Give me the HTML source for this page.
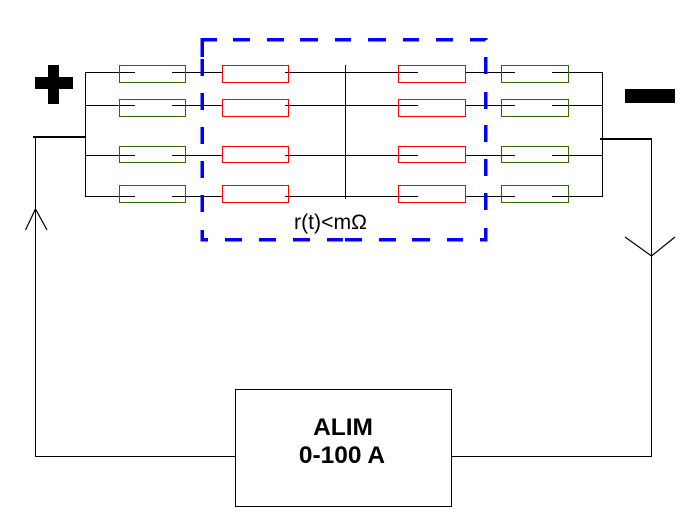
<!DOCTYPE html>
<html>
<head>
<meta charset="utf-8">
<style>
html,body{margin:0;padding:0;background:#fff;width:700px;height:532px;overflow:hidden}
svg{display:block}
.c{shape-rendering:crispEdges}
</style>
</head>
<body>
<svg width="700" height="532" viewBox="0 0 700 532" xmlns="http://www.w3.org/2000/svg">
<rect width="700" height="532" fill="#fff"/>
<g class="c" fill="none" stroke="#000" stroke-width="1">
  <path d="M85.5 72.5V196.5M602.5 72.5V196.5M345.5 65V199"/>
  <path d="M85 72.5H135M172 72.5H222M285 72.5H418M465 72.5H515M552 72.5H603"/>
  <path d="M85 105.5H135M172 105.5H222M285 105.5H418M465 105.5H515M552 105.5H603"/>
  <path d="M85 155.5H135M172 155.5H222M285 155.5H418M465 155.5H515M552 155.5H603"/>
  <path d="M85 196.5H135M172 196.5H222M285 196.5H418M465 196.5H515M552 196.5H603"/>
  <path d="M35.5 138V457M35 456.5H235M651.5 139V457M452 456.5H652"/>
  <rect x="235.5" y="389.5" width="216" height="117"/>
</g>
<g class="c" fill="none" stroke="#336600" stroke-width="1">
  <rect x="119.5" y="65.5" width="66" height="17"/>
  <rect x="119.5" y="99.5" width="66" height="17"/>
  <rect x="119.5" y="146.5" width="66" height="16"/>
  <rect x="119.5" y="185.5" width="66" height="17"/>
  <rect x="501.5" y="65.5" width="67" height="17"/>
  <rect x="501.5" y="99.5" width="67" height="17"/>
  <rect x="501.5" y="146.5" width="67" height="16"/>
  <rect x="501.5" y="185.5" width="67" height="17"/>
</g>
<g class="c" fill="none" stroke="#ff0000" stroke-width="1">
  <rect x="222.5" y="65.5" width="66" height="17"/>
  <rect x="222.5" y="99.5" width="66" height="17"/>
  <rect x="222.5" y="146.5" width="66" height="16"/>
  <rect x="222.5" y="185.5" width="66" height="17"/>
  <rect x="398.5" y="65.5" width="67" height="17"/>
  <rect x="398.5" y="99.5" width="67" height="17"/>
  <rect x="398.5" y="146.5" width="67" height="16"/>
  <rect x="398.5" y="185.5" width="67" height="17"/>
</g>
<g class="c" fill="none" stroke="#000" stroke-width="2">
  <path d="M33 137H85M600 139H652"/>
</g>
<g fill="none" stroke="#000" stroke-width="1.2">
  <path d="M25.5 230L35.5 209L47 230"/>
  <path d="M625 237L651.5 256L675 237"/>
</g>
<g class="c" fill="#000">
  <rect x="35" y="77" width="38" height="12"/>
  <rect x="48" y="65" width="11" height="39"/>
  <rect x="625" y="89" width="50" height="14"/>
</g>
<g class="c" fill="none" stroke="#0000ff" stroke-width="3.5">
  <path d="M202 57V39.5H217"/>
  <path d="M233 39.5H250M267 39.5H284M300 39.5H318M335 39.5H351M368 39.5H386M403 39.5H419M436 39.5H453M470 39.5H485.5V40"/>
  <path d="M485.5 57V74M485.5 92V109M485.5 125V142M485.5 159V176M485.5 193V210M485.5 228V239.5H480"/>
  <path d="M463 239.5H447M430 239.5H412M396 239.5H379M362 239.5H345M343 239.5H327M310 239.5H293M276 239.5H259M242 239.5H225M208 239.5H202V230"/>
  <path d="M202 212V195M202 178V161M202 144V127M202 110V93M202 76V59"/>
</g>
<text x="294" y="229" font-family="'Liberation Sans',sans-serif" font-size="21" fill="#000" textLength="73" lengthAdjust="spacingAndGlyphs">r(t)&lt;mΩ</text>
<g font-family="'Liberation Sans',sans-serif" font-size="24.5" font-weight="bold" fill="#000" text-anchor="middle">
  <text x="343" y="435">ALIM</text>
  <text x="342" y="463">0-100 A</text>
</g>
</svg>
</body>
</html>
